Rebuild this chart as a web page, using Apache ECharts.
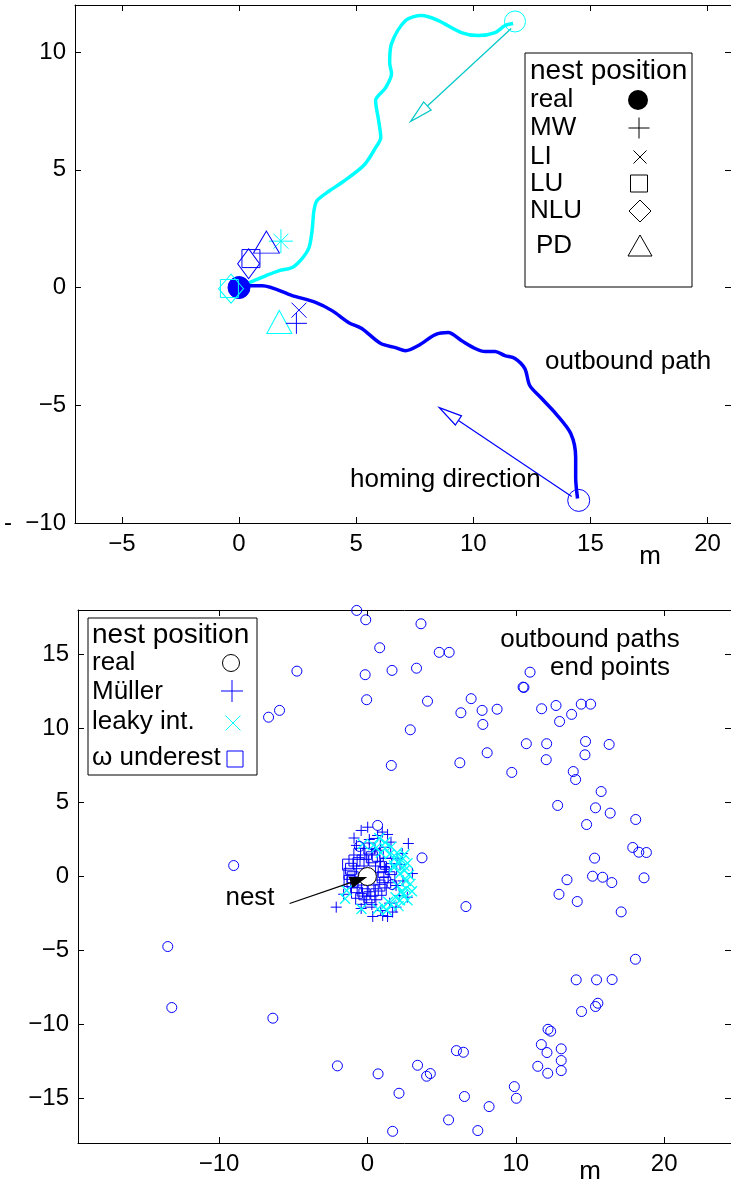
<!DOCTYPE html>
<html>
<head>
<meta charset="utf-8">
<script src="https://cdn.jsdelivr.net/npm/echarts@6/dist/echarts.min.js"></script>
<style>
  html, body { margin: 0; padding: 0; background: #fff; }
  #c { width: 731px; height: 1187px; }
</style>
</head>
<body>
<div id="c"></div>
<script>
// ---------- Upper panel: two outbound paths and the homing estimates ----------
const topXTicks = [-5, 0, 5, 10, 15, 20];
const topYTicks = [-10, -5, 0, 5, 10];

// outbound path ending up-right (cyan)
const cyanPath = [
  [0, 0], [0.44, 0.21], [1.16, 0.51], [1.72, 0.72], [2.27, 0.85], [2.69, 1.23],
  [2.99, 1.70], [3.12, 2.42], [3.20, 3.27], [3.33, 3.69], [3.85, 4.10], [4.39, 4.46],
  [5.32, 5.18], [5.83, 5.94], [6.05, 6.37], [5.96, 7.09], [5.83, 7.94], [6.26, 8.49],
  [6.51, 9.09], [6.43, 9.55], [6.51, 10.36], [7.11, 11.34], [7.79, 11.55], [8.51, 11.34],
  [9.49, 10.83], [10.21, 10.70], [10.93, 10.83], [11.36, 11.13], [11.70, 11.21]
];
// outbound path ending down-right (blue)
const bluePath = [
  [0, 0], [0.44, 0.08], [0.99, 0.08], [2.27, -0.34], [3.29, -0.64], [3.97, -0.98],
  [4.69, -1.49], [5.24, -1.74], [6.05, -2.38], [6.68, -2.55], [7.11, -2.68], [7.66, -2.46],
  [8.38, -2.00], [8.93, -1.91], [9.49, -2.25], [10.08, -2.59], [10.51, -2.72], [10.93, -2.72],
  [11.35, -2.89], [11.78, -3.01], [12.20, -3.44], [12.41, -4.16], [12.88, -4.67], [13.52, -5.35],
  [14.16, -6.20], [14.37, -7.22], [14.37, -8.07], [14.45, -8.96]
];
const realNest = [[0, 0]];
const cyanEnd = [[11.78, 11.30]];
const blueEnd = [[14.50, -9.04]];
// homing direction arrows: [x0, y0, x1, y1]
const cyanHoming = [[11.62, 11.0, 7.32, 7.05]];
const blueHoming = [[14.2, -8.87, 8.55, -5.10]];

// estimated nest positions per model
const cyanMW = [[1.79, 1.97]];
const cyanLI = [[1.79, 1.97]];
const cyanLU = [[-0.41, -0.04]];
const cyanNLU = [[-0.34, -0.05]];
const cyanPD = [[1.72, -1.46]];
const blueMW = [[2.45, -1.52]];
const blueLI = [[2.56, -0.96]];
const blueLU = [[0.51, 1.23]];
const blueNLU = [[0.41, 1.01]];
const bluePD = [[1.17, 1.93]];

// ---------- Lower panel: end points of many outbound paths ----------
const botXTicks = [-10, 0, 10, 20];
const botYTicks = [-15, -10, -5, 0, 5, 10, 15];

const endPoints = [
  [-0.72, 17.97], [-0.11, 17.34], [3.61, 17.07], [0.83, 15.45], [4.84, 15.14], [5.51, 15.14],
  [-4.75, 13.87], [-0.15, 13.63], [1.66, 13.92], [3.31, 14.07], [-0.05, 11.94], [4.05, 11.84],
  [-5.92, 11.22], [-6.66, 10.76], [2.89, 9.91], [1.61, 7.50], [10.96, 13.80], [10.49, 12.79],
  [10.55, 12.77], [6.99, 12.01], [6.30, 11.06], [7.73, 11.22], [8.74, 11.30], [7.78, 10.27],
  [11.74, 11.33], [12.71, 11.55], [12.95, 10.47], [13.76, 10.95], [14.41, 11.64], [15.04, 11.64],
  [10.71, 8.97], [12.08, 8.97], [14.70, 9.12], [16.29, 8.92], [8.07, 8.36], [6.23, 7.68],
  [12.05, 7.89], [14.66, 8.22], [9.73, 7.03], [13.87, 7.09], [14.03, 6.55], [15.75, 5.74],
  [12.82, 4.80], [15.37, 4.64], [16.36, 4.28], [18.08, 3.85], [14.77, 3.51], [17.88, 1.96],
  [18.29, 1.64], [18.80, 1.62], [15.31, 1.24], [13.45, -0.22], [15.17, 0.02], [15.85, -0.05],
  [16.47, -0.41], [18.64, -0.09], [12.91, -1.20], [14.14, -1.69], [6.64, -2.03], [17.10, -2.39],
  [18.06, -5.59], [14.07, -6.98], [15.44, -6.98], [16.49, -6.96], [15.37, -8.78], [15.53, -8.56],
  [14.43, -9.12], [-6.37, -9.57], [12.17, -10.32], [12.35, -10.45], [11.72, -11.35], [12.10, -11.89],
  [13.06, -11.64], [6.00, -11.76], [6.47, -11.87], [13.06, -12.43], [11.48, -12.82], [12.15, -13.29],
  [13.06, -13.11], [-2.02, -12.79], [0.72, -13.33], [3.38, -12.75], [3.99, -13.49], [4.24, -13.31],
  [2.13, -14.64], [6.54, -14.86], [9.90, -14.19], [10.04, -14.98], [8.20, -15.54], [5.47, -16.44],
  [1.70, -17.21], [7.44, -17.16], [-9.01, 0.74], [-13.45, -4.73], [-13.18, -8.85], [0.69, 3.45],
  [3.68, 1.26], [-0.54, 2.03], [1.66, -0.54]
];
const mullerEst = [
  [-0.42, 3.11], [0.02, 3.33], [0.69, 2.77], [1.36, 2.84], [0.13, 2.50], [-2.10, -2.07],
  [0.36, -2.70], [1.03, -2.64], [1.36, -2.70], [1.93, -2.07], [-0.42, -2.16], [3.03, 0.20],
  [2.35, 1.55], [1.59, 2.32], [1.93, -0.61], [2.15, -1.28], [2.69, -1.40], [2.76, 2.23],
  [1.14, 0.63], [-1.6, -1.2], [-0.74, 2.1], [0.5, 1.9], [2.0, 1.2], [1.5, -1.8], [0.9, -2.3],
  [2.4, -0.3], [-0.9, 2.6], [0.3, -1.9], [1.7, -2.4], [2.2, 0.8], [1.0, 3.0]
];
const leakyEst = [
  [-0.3, 2.2], [0.4, 2.1], [0.6, 1.95], [1.2, 1.9], [1.5, 1.5], [1.9, 1.3], [2.3, 1.1], [2.5, 0.7],
  [2.5, 0.4], [2.8, 0.1], [2.6, -0.3], [2.6, -0.8], [2.4, -1.2], [2.2, -1.6], [1.6, -1.9], [1.1, -2.05],
  [0.7, -2.2], [-1.4, -0.95], [-1.5, -1.5], [-0.4, -2.2], [1.8, 0.6], [2.1, 0.9], [1.8, 0.75],
  [2.0, -0.6], [2.3, -1.0], [1.9, -1.4], [2.0, 1.6], [1.2, 2.3], [2.9, -0.5], [2.7, 0.9], [1.4, -1.7],
  [2.1, -2.0], [0.9, 1.6], [2.5, 1.5], [1.6, 2.0], [3.0, -1.0], [2.2, 0.2], [1.3, -2.3], [0.8, 2.6],
  [2.7, -1.6]
];
const underestEst = [
  [-1.10, 0.52], [-0.99, -0.05], [-0.76, -0.72], [-0.32, -0.95], [0.36, -0.95], [0.81, -0.61],
  [1.03, -0.05], [0.92, 0.63], [0.47, 1.08], [-0.32, 1.08], [-0.87, 1.08], [-0.54, 1.53],
  [-0.09, 1.53], [-1.21, 0.18], [0.13, -1.40], [-0.42, -1.51], [1.26, 0.86], [0.13, 1.89],
  [1.48, -0.05], [-1.0, -0.4], [-0.6, 0.9], [0.6, -1.2], [1.1, 0.3], [-0.2, -1.2], [0.9, -0.9],
  [-1.2, -0.3], [0.3, 1.3], [1.2, -0.4], [-0.7, -1.1], [0.7, 1.4], [0.2, -1.7], [1.6, 0.5],
  [-1.3, 0.8], [0.5, 2.2], [1.2, 1.6]
];
const nestPointer = [[-5.24, -1.82, -0.13, -0.07]];

// ---------- helpers ----------
const FONT = 'Liberation Sans, Arial, sans-serif';
const BLUE = '#0000ff';
const CYAN = '#00ffff';
const PLUS = 'path://M0,-10L0,10M-10,0L10,0';
const CROSS = 'path://M-10,-10L10,10M-10,10L10,-10';

function fmtTick(v) {
  return v < 0 ? '\u2212' + Math.abs(v) : String(v);
}

function makeAxis(grid, position, min, max, ticks, showLabel, formatter) {
  return {
    type: 'value', gridIndex: grid, position: position, min: min, max: max,
    axisLine: { show: true, onZero: false, lineStyle: { color: '#000', width: 1 } },
    axisTick: { show: true, inside: true, length: 6, customValues: ticks, lineStyle: { color: '#000', width: 1 } },
    axisLabel: {
      show: showLabel, customValues: ticks, formatter: formatter || fmtTick,
      color: '#000', fontFamily: FONT, fontSize: 24, margin: 9
    },
    splitLine: { show: false }
  };
}

function arrowRenderer(color, filled, headLen, headHalf, lw) {
  return function (params, api) {
    const a = api.coord([api.value(0), api.value(1)]);
    const b = api.coord([api.value(2), api.value(3)]);
    const dx = b[0] - a[0], dy = b[1] - a[1];
    const L = Math.hypot(dx, dy), ux = dx / L, uy = dy / L;
    const bx = b[0] - ux * headLen, by = b[1] - uy * headLen;
    return {
      type: 'group',
      children: [
        { type: 'line', shape: { x1: a[0], y1: a[1], x2: bx, y2: by }, style: { stroke: color, lineWidth: lw } },
        {
          type: 'polygon',
          shape: { points: [[b[0], b[1]], [bx - uy * headHalf, by + ux * headHalf], [bx + uy * headHalf, by - ux * headHalf]] },
          style: { fill: filled ? color : 'none', stroke: color, lineWidth: lw }
        }
      ]
    };
  };
}

function marks(data, symbol, size, color, grid, opts) {
  opts = opts || {};
  return {
    type: 'scatter', xAxisIndex: grid * 2, yAxisIndex: grid * 2, data: data,
    symbol: symbol, symbolSize: size, silent: true, clip: false, z: opts.z || 3,
    itemStyle: {
      color: opts.fill || 'transparent', borderColor: color,
      borderWidth: opts.lw || 1, opacity: 1
    }
  };
}

// ---------- legend drawings ----------
function txt(x, y, s, size, align) {
  return {
    type: 'text', x: x, y: y, silent: true, z: 50,
    style: { text: s, fill: '#000', font: size + 'px ' + FONT, textAlign: align || 'left', textVerticalAlign: 'middle' }
  };
}
function seg(x1, y1, x2, y2, color) {
  return { type: 'line', silent: true, z: 50, shape: { x1: x1, y1: y1, x2: x2, y2: y2 }, style: { stroke: color, lineWidth: 1 } };
}
function plusG(cx, cy, s, color) {
  const h = s / 2;
  return { type: 'group', children: [seg(cx, cy - h, cx, cy + h, color), seg(cx - h, cy, cx + h, cy, color)] };
}
function crossG(cx, cy, s, color) {
  const h = s / 2;
  return { type: 'group', children: [seg(cx - h, cy - h, cx + h, cy + h, color), seg(cx - h, cy + h, cx + h, cy - h, color)] };
}

const graphics = [
  // upper legend
  { type: 'rect', z: 49, silent: true, shape: { x: 525, y: 53, width: 167, height: 234 }, style: { fill: '#fff', stroke: '#000', lineWidth: 1 } },
  txt(530, 71, 'nest position', 28),
  txt(530, 100, 'real', 26),
  txt(530, 128, 'MW', 26),
  txt(530, 157, 'LI', 26),
  txt(530, 184, 'LU', 26),
  txt(530, 211, 'NLU', 26),
  txt(536, 246, 'PD', 26),
  { type: 'circle', z: 50, silent: true, shape: { cx: 638, cy: 100, r: 10 }, style: { fill: '#000' } },
  plusG(639, 128, 21, '#000'),
  crossG(640, 157, 13, '#000'),
  { type: 'rect', z: 50, silent: true, shape: { x: 630.5, y: 175, width: 17, height: 17 }, style: { fill: 'none', stroke: '#000', lineWidth: 1 } },
  { type: 'polygon', z: 50, silent: true, shape: { points: [[640, 200], [651, 211], [640, 222], [629, 211]] }, style: { fill: 'none', stroke: '#000', lineWidth: 1 } },
  { type: 'polygon', z: 50, silent: true, shape: { points: [[640, 235], [652, 256], [628, 256]] }, style: { fill: 'none', stroke: '#000', lineWidth: 1 } },
  // upper annotations
  txt(545, 362, 'outbound path', 26),
  txt(350, 480, 'homing direction', 26),
  txt(650, 557, 'm', 26, 'center'),
  // lower legend
  { type: 'rect', z: 49, silent: true, shape: { x: 88, y: 618, width: 169, height: 157 }, style: { fill: '#fff', stroke: '#000', lineWidth: 1 } },
  txt(92, 635, 'nest position', 28),
  txt(92, 663, 'real', 26),
  txt(92, 692, 'M\u00fcller', 26),
  txt(92, 722, 'leaky int.', 26),
  txt(92, 758, '\u03c9 underest', 26),
  { type: 'circle', z: 50, silent: true, shape: { cx: 231, cy: 663, r: 8.5 }, style: { fill: 'none', stroke: '#000', lineWidth: 1 } },
  plusG(232, 691, 22, BLUE),
  crossG(233, 723, 15, CYAN),
  { type: 'rect', z: 50, silent: true, shape: { x: 227, y: 751, width: 16, height: 16 }, style: { fill: 'none', stroke: BLUE, lineWidth: 1 } },
  // lower annotations
  txt(590, 640, 'outbound paths', 26, 'center'),
  txt(610, 668, 'end points', 26, 'center'),
  txt(250, 898, 'nest', 26, 'center'),
  txt(590, 1172, 'm', 26, 'center')
];

const chart = echarts.init(document.getElementById('c'), null, { renderer: 'canvas' });
chart.setOption({
  animation: false,
  backgroundColor: '#fff',
  grid: [
    { left: 75, top: 5, width: 659.4, height: 518 },
    { left: 78, top: 610, width: 654.5, height: 533 }
  ],
  xAxis: [
    makeAxis(0, 'bottom', -7, 21, topXTicks, true),
    makeAxis(0, 'top', -7, 21, topXTicks, false),
    makeAxis(1, 'bottom', -19.5, 24.5, botXTicks, true),
    makeAxis(1, 'top', -19.5, 24.5, botXTicks, false)
  ],
  yAxis: [
    makeAxis(0, 'left', -10, 12, topYTicks, true, v => (v === -10 ? '-  \u221210' : fmtTick(v))),
    makeAxis(0, 'right', -10, 12, topYTicks, false),
    makeAxis(1, 'left', -18, 18, botYTicks, true),
    makeAxis(1, 'right', -18, 18, botYTicks, false)
  ],
  graphic: graphics,
  series: [
    // upper panel paths
    { type: 'line', xAxisIndex: 0, yAxisIndex: 0, data: cyanPath, symbol: 'none', silent: true, z: 2,
      smooth: 0.3, lineStyle: { color: CYAN, width: 3.5 } },
    { type: 'line', xAxisIndex: 0, yAxisIndex: 0, data: bluePath, symbol: 'none', silent: true, z: 2,
      smooth: 0.3, lineStyle: { color: BLUE, width: 3.5 } },
    // homing arrows
    { type: 'custom', xAxisIndex: 0, yAxisIndex: 0, data: cyanHoming, silent: true, z: 3,
      renderItem: arrowRenderer('#00c8c8', false, 23, 5.5, 1.2) },
    { type: 'custom', xAxisIndex: 0, yAxisIndex: 0, data: blueHoming, silent: true, z: 3,
      renderItem: arrowRenderer(BLUE, false, 23, 5.5, 1.2) },
    // path end circles
    marks(cyanEnd, 'circle', 21, CYAN, 0),
    marks(blueEnd, 'circle', 22, BLUE, 0),
    // nest and estimates
    marks(realNest, 'circle', 22, BLUE, 0, { fill: BLUE }),
    marks(cyanLU, 'rect', 18, CYAN, 0),
    marks(cyanNLU, 'diamond', [25, 29], CYAN, 0),
    marks(cyanMW, PLUS, 24, CYAN, 0),
    marks(cyanLI, CROSS, 15, CYAN, 0),
    marks(cyanPD, 'triangle', [25, 23], CYAN, 0),
    marks(blueLU, 'rect', 18, BLUE, 0),
    marks(blueNLU, 'diamond', [22, 30], BLUE, 0),
    marks(blueMW, PLUS, 21, BLUE, 0),
    marks(blueLI, CROSS, 15, BLUE, 0),
    marks(bluePD, 'triangle', [26, 22], BLUE, 0),
    // lower panel
    marks(underestEst, 'rect', 11, BLUE, 1),
    marks(mullerEst, PLUS, 11, BLUE, 1),
    marks(leakyEst, CROSS, 10, CYAN, 1, { lw: 1.3 }),
    marks(endPoints, 'circle', 10, BLUE, 1),
    marks(realNest, 'circle', 18, '#000', 1, { fill: '#fff', z: 4 }),
    { type: 'custom', xAxisIndex: 2, yAxisIndex: 2, data: nestPointer, silent: true, z: 5,
      renderItem: arrowRenderer('#000', true, 15, 5, 1.2) }
  ]
});
</script>
</body>
</html>
